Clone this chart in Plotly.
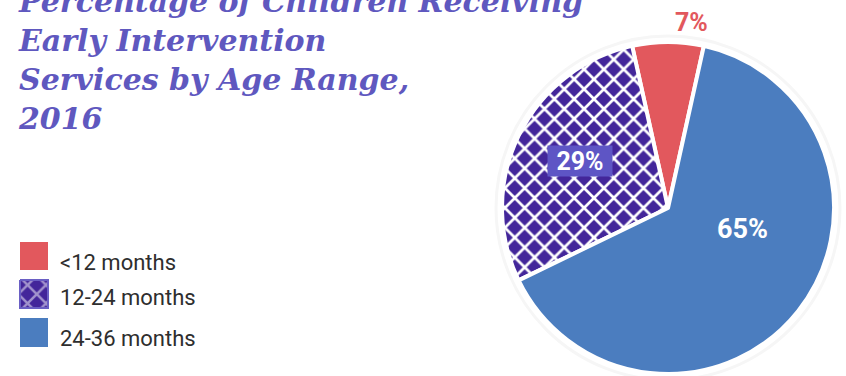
import plotly.graph_objects as go

# Share of children receiving early intervention services, 2016
age_ranges = ["<12 months", "12-24 months", "24-36 months"]
percentages = [7, 29, 65]
slice_colors = ["#E2585D", "#43269A", "#4B7DBF"]
slice_patterns = ["", "x", ""]

W, H = 846, 376
TITLE_COLOR = "#5F58BF"
TEXT_COLOR = "#2E2E2E"

fig = go.Figure()

# Pie: red slice centred at 12 o'clock, the rest running counterclockwise
cx, cy, r = 668, 208, 166
first_span = 360 * percentages[0] / sum(percentages)
fig.add_trace(go.Pie(
    labels=age_ranges,
    values=percentages,
    sort=False,
    direction="counterclockwise",
    rotation=-first_span / 2,
    marker=dict(
        colors=slice_colors,
        line=dict(color="white", width=4),
        pattern=dict(shape=slice_patterns,
                     fgcolor=["white"] * 3,
                     bgcolor=slice_colors,
                     fillmode="replace",
                     size=14, solidity=0.35),
    ),
    textinfo="none",
    hoverinfo="label+value",
    showlegend=False,
    domain=dict(x=[(cx - r) / W, (cx + r) / W],
                y=[(H - cy - r) / H, (H - cy + r) / H]),
))

# Hatched legend swatch
sx0, sy0, sz = 20, 280, 28
fig.add_trace(go.Scatter(
    x=[sx0, sx0 + sz, sx0 + sz, sx0, sx0],
    y=[sy0, sy0, sy0 + sz, sy0 + sz, sy0],
    mode="lines", fill="toself",
    fillcolor="#43269A",
    fillpattern=dict(shape="x", fgcolor="white", bgcolor="#43269A",
                     size=13, solidity=0.35),
    line=dict(color="#6A5FC4", width=2),
    hoverinfo="skip", showlegend=False,
))

shapes = [
    # faint halo round the pie
    dict(type="circle", xref="x", yref="y", layer="below",
         x0=cx - r - 6, x1=cx + r + 6, y0=cy - r - 6, y1=cy + r + 6,
         line=dict(color="#F6F6F6", width=3)),
    # solid legend swatches
    dict(type="rect", xref="x", yref="y", x0=20, x1=48, y0=242, y1=270,
         fillcolor=slice_colors[0], line=dict(width=0)),
    dict(type="rect", xref="x", yref="y", x0=20, x1=48, y0=318, y1=347,
         fillcolor=slice_colors[2], line=dict(width=0)),
]

annotations = [
    dict(text="Percentage of Children Receiving<br>Early Intervention<br>"
              "Services by Age Range,<br>2016",
         x=16 / W, y=1, xref="paper", yref="paper",
         xanchor="left", yanchor="top", yshift=18,
         align="left", showarrow=False,
         font=dict(family="DejaVu Serif", size=30, color=TITLE_COLOR,
                   weight="bold", style="italic")),
]

# legend labels
for label, ly in zip(age_ranges, [262, 297, 338]):
    annotations.append(dict(
        text=label, x=58, y=ly, xref="x", yref="y",
        xanchor="left", yanchor="middle", showarrow=False,
        font=dict(family="Roboto", size=22, color=TEXT_COLOR)))

# slice value labels
label_specs = [
    dict(x=691, y=22, color=slice_colors[0], bg=None, size=25),
    dict(x=580, y=161, color="white", bg="#5E55C5", size=25),
    dict(x=742, y=229, color="white", bg=None, size=27),
]
for v, spec in zip(percentages, label_specs):
    a = dict(text=f"{v}%", x=spec["x"], y=spec["y"], xref="x", yref="y",
             xanchor="center", yanchor="middle", showarrow=False,
             font=dict(family="Roboto", size=spec["size"], color=spec["color"],
                       weight="bold"))
    if spec["bg"]:
        a.update(bgcolor=spec["bg"], borderpad=1, width=62, height=28)
    annotations.append(a)

fig.update_layout(
    width=W, height=H,
    margin=dict(l=0, r=0, t=0, b=0),
    paper_bgcolor="white", plot_bgcolor="white",
    xaxis=dict(range=[0, W], visible=False, fixedrange=True, domain=[0, 1]),
    yaxis=dict(range=[H, 0], visible=False, fixedrange=True, domain=[0, 1]),
    shapes=shapes,
    annotations=annotations,
)

fig.write_html("out.html")
